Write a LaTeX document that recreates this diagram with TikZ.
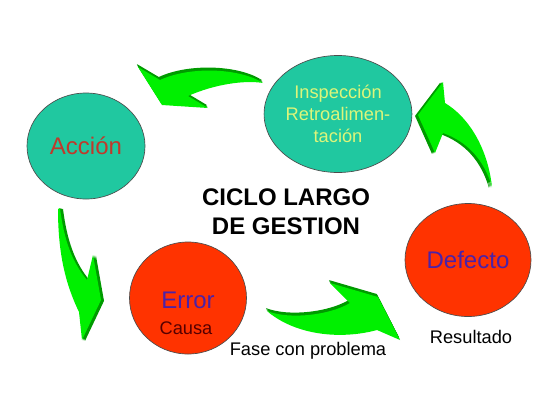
\documentclass[tikz,border=0pt]{standalone}
\usepackage{fontspec}
\setmainfont{Liberation Sans}
\usepackage{tikz}
\usetikzlibrary{shapes.geometric,positioning,calc}
\definecolor{turquesa}{HTML}{20C8A0}
\definecolor{rojo}{HTML}{FF3300}
\definecolor{verde}{HTML}{00F000}
\definecolor{verdeosc}{HTML}{009A00}
\definecolor{txtaccion}{HTML}{C0392B}
\definecolor{txtinsp}{HTML}{DDF57A}
\definecolor{morado}{HTML}{4B22A8}
\definecolor{granate}{HTML}{550000}
\tikzstyle{circulo}=[ellipse, draw=black!70, line width=0.5pt, inner sep=0pt]
\tikzstyle{grande}=[font=\fontsize{18}{20}\selectfont]
\tikzstyle{chico}=[font=\fontsize{13.7}{16.5}\selectfont]
% flecha verde con relieve: camino, desplazamiento x, desplazamiento y
\newcommand{\flecha}[3]{%
  \foreach \k in {3,2,1} {\fill[verdeosc, shift={({\k*#2},{\k*#3})}] #1;}
  \fill[verde] #1;}

\begin{document}
\begin{tikzpicture}[x=0.75pt,y=-0.75pt]
\useasboundingbox (0,0) rectangle (559,419);

\node (accion) at (86,146)[circulo,fill=turquesa,minimum width=88.5pt,minimum height=79.5pt,grande,text=txtaccion] {Acci\'on};
\node (inspeccion) at (338,114)[circulo,fill=turquesa,minimum width=94.5pt,minimum height=87.75pt,chico,text=txtinsp,align=center] {Inspecci\'on\\Retroalimen-\\taci\'on};
\node (error) at (188,298)[circulo,fill=rojo,minimum width=87.75pt,minimum height=84pt] {};
\node (defecto) at (468,260)[circulo,fill=rojo,minimum width=94.5pt,minimum height=84.75pt,grande,text=morado] {Defecto};

\node (terror) at (188,300)[grande,text=morado] {Error};
\node (tcausa) at (186,328)[chico,text=granate] {Causa};
\node (tresultado) at (471,337)[chico] {Resultado};
\node (tfase) at (308,351)[chico] {Fase con problema};
\node (titulo) at (286,212)[align=center,font=\fontsize{18}{21.75}\selectfont\bfseries] {CICLO LARGO\\DE GESTION};

% inspeccion -> accion
\flecha{(263,83) .. controls (240,68) and (190,66) .. (160,80) -- (138,67) -- (162,105) -- (208,108) -- (188,96) .. controls (215,84) and (245,80) .. (263,83) -- cycle}{-0.4}{-1}
% accion -> error
\flecha{(60,208) .. controls (64,240) and (72,262) .. (87,280) -- (93,255) -- (101,300) -- (82,340) -- (79,312) .. controls (66,285) and (58,255) .. (58,209) -- cycle}{1}{0.3}
% error -> defecto
\flecha{(267,311) .. controls (290,320) and (330,315) .. (350,303) -- (330,283) -- (378,297) -- (400,340) -- (377,330) .. controls (340,340) and (295,335) .. (267,311) -- cycle}{-0.4}{-1}
% defecto -> inspeccion
\flecha{(492,187) .. controls (484,160) and (468,142) .. (443,133) -- (435,153) -- (418,115) -- (443,82) -- (445,103) .. controls (470,118) and (488,150) .. (492,187) -- cycle}{-1}{0.3}
\end{tikzpicture}
\end{document}
